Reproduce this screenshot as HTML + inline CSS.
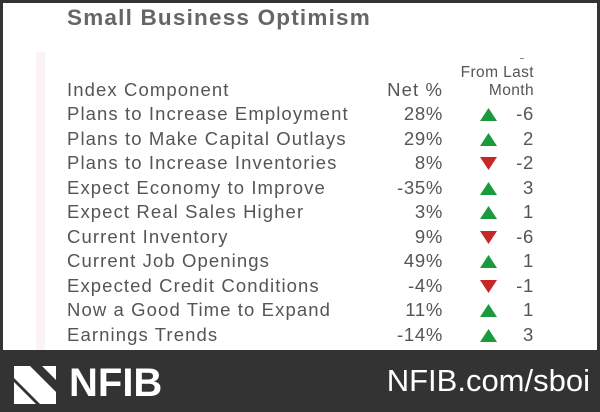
<!DOCTYPE html>
<html><head><meta charset="utf-8"><style>
body{margin:0;width:600px;height:412px;background:#333;position:relative;overflow:hidden;font-family:"Liberation Sans",sans-serif}
#card{position:absolute;left:3px;top:3px;width:594px;height:347px;background:#fff}
.t{position:absolute;white-space:nowrap;color:#555;font-size:18.5px;line-height:20px;letter-spacing:1.1px}
</style></head><body>
<div id="card"></div>
<div class="t" style="left:67px;top:6px;font-size:22.5px;line-height:24px;font-weight:bold;color:#666;letter-spacing:1.2px">Small Business Optimism</div>
<div style="position:absolute;left:36px;top:52px;width:9px;height:298px;background:#fbf3f4"></div>
<div style="position:absolute;left:520px;top:58px;width:4px;height:1px;background:#888"></div>
<div class="t" style="left:67px;top:80px">Index Component</div>
<div class="t" style="right:157px;top:80px">Net %</div>
<div class="t" style="right:66px;top:64px;font-size:15.5px;line-height:18px;text-align:right;letter-spacing:0.4px">From Last<br>Month</div>
<div id="rows"></div>
<svg style="position:absolute;left:14px;top:366px" width="42" height="38"><polygon points="0,0 16,0 42,26 42,0 42,38 26,38 0,12" fill="#fff"/><polygon points="0,16 22,38 0,38" fill="#fff"/><polygon points="28,0 42,0 42,14" fill="#fff"/></svg>
<div class="t" style="left:69px;top:362px;font-size:40px;line-height:42px;font-weight:900;color:#fff;letter-spacing:0">NFIB</div>
<div class="t" style="right:10px;top:364px;font-size:31px;line-height:34px;color:#fff;letter-spacing:0">NFIB.com/sboi</div>
<script>
const components=["Plans to Increase Employment","Plans to Make Capital Outlays","Plans to Increase Inventories","Expect Economy to Improve","Expect Real Sales Higher","Current Inventory","Current Job Openings","Expected Credit Conditions","Now a Good Time to Expand","Earnings Trends"];
const netPct=[28,29,8,-35,3,9,49,-4,11,-14];
const change=[-6,2,-2,3,1,-6,1,-1,1,3];
const dirUp=[true,true,false,true,true,false,true,false,true,true];
const rows=document.getElementById('rows');
components.forEach((c,i)=>{
  const y=104+i*24.55;
  const a=document.createElement('div');a.className='t';a.style.left='67px';a.style.top=y+'px';a.textContent=c;
  
  
  rows.appendChild(a);
  const b=document.createElement('div');b.className='t';b.style.right='157px';b.style.top=y+'px';b.style.letterSpacing='0.7px';b.textContent=netPct[i]+'%';
  
  
  rows.appendChild(b);
  const d=document.createElement('div');d.className='t';d.style.right='66px';d.style.top=y+'px';d.style.letterSpacing='0.7px';d.textContent=change[i];
  
  
  rows.appendChild(d);
  const s=document.createElementNS('http://www.w3.org/2000/svg','svg');
  s.setAttribute('width','17');s.setAttribute('height','13');
  s.style.cssText='position:absolute;left:480px;top:'+(y+4)+'px';
  
  
  const p=document.createElementNS('http://www.w3.org/2000/svg','polygon');
  p.setAttribute('points',dirUp[i]?'8.5,0 17,13 0,13':'0,0 17,0 8.5,13');
  p.setAttribute('fill',dirUp[i]?'#1a9a3c':'#c62828');
  s.appendChild(p);rows.appendChild(s);
});
</script>
</body></html>
